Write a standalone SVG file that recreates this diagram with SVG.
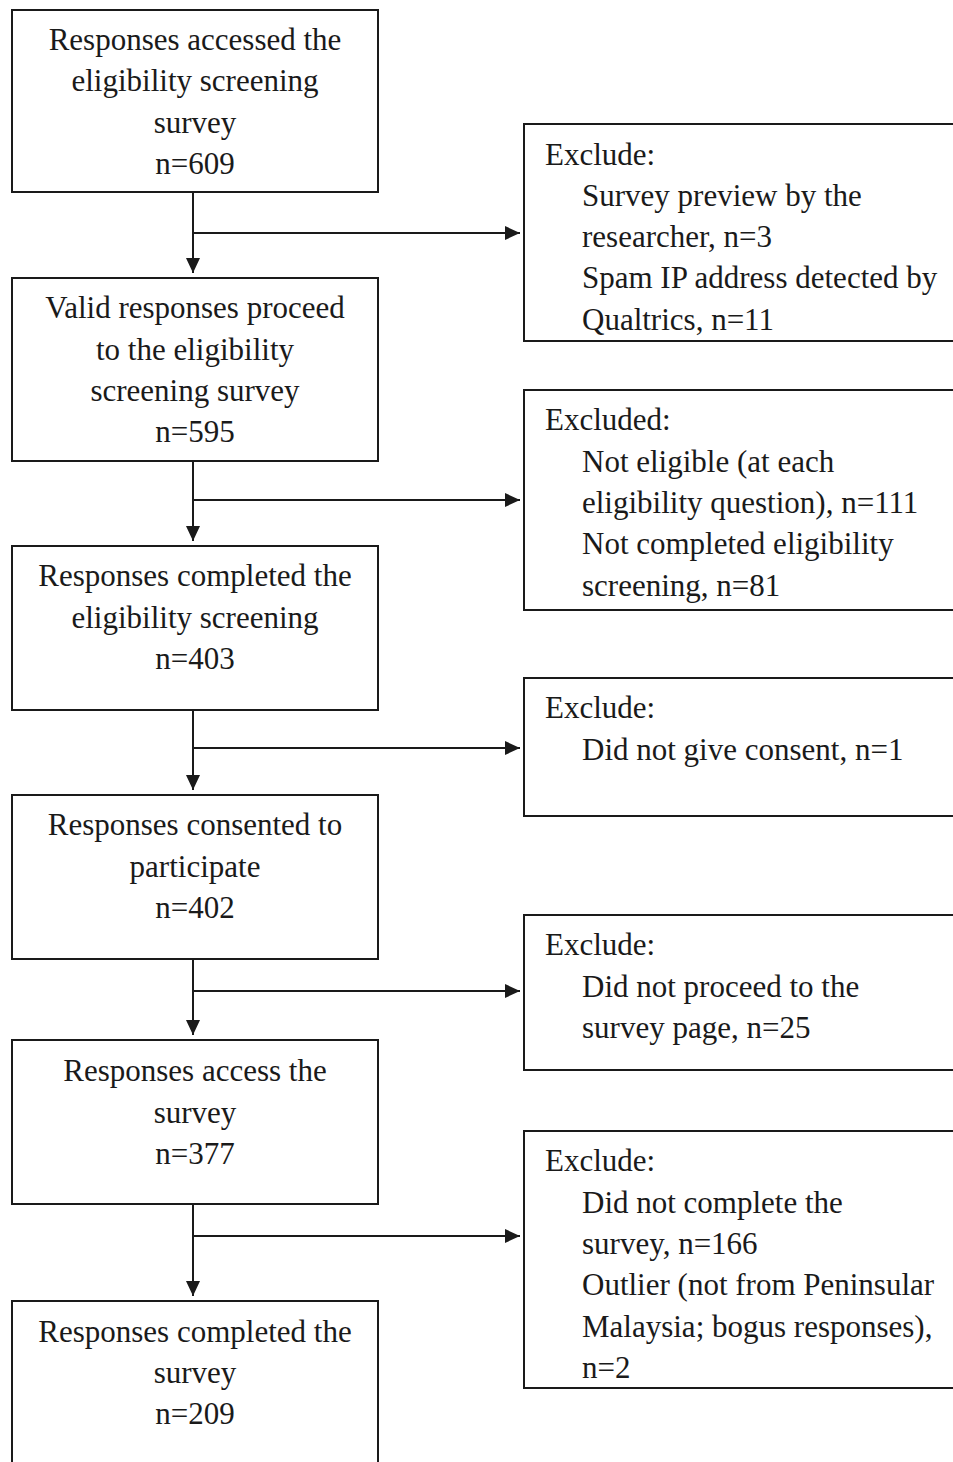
<svg xmlns="http://www.w3.org/2000/svg" width="953" height="1462" viewBox="0 0 953 1462">
<defs>
<marker id="ah" markerUnits="userSpaceOnUse" markerWidth="16" markerHeight="14" refX="15" refY="7" orient="auto">
<path d="M0,0 L15,7 L0,14 Z" fill="#1a1a1a"/>
</marker>
<style>
.box{fill:#fff;stroke:#1a1a1a;stroke-width:2}
.t{font-family:"Liberation Serif","Times New Roman",serif;font-size:31px;fill:#1a1a1a}
.c{text-anchor:middle}
.ln{stroke:#1a1a1a;stroke-width:2;fill:none}
</style>
</defs>
<rect width="953" height="1462" fill="#fff"/>
<g id="connectors">
<path class="ln" d="M193,192 V273" marker-end="url(#ah)"/>
<path class="ln" d="M193,233 H520" marker-end="url(#ah)"/>
<path class="ln" d="M193,461 V541" marker-end="url(#ah)"/>
<path class="ln" d="M193,500 H520" marker-end="url(#ah)"/>
<path class="ln" d="M193,710 V790" marker-end="url(#ah)"/>
<path class="ln" d="M193,748 H520" marker-end="url(#ah)"/>
<path class="ln" d="M193,959 V1035" marker-end="url(#ah)"/>
<path class="ln" d="M193,991 H520" marker-end="url(#ah)"/>
<path class="ln" d="M193,1204 V1296" marker-end="url(#ah)"/>
<path class="ln" d="M193,1236 H520" marker-end="url(#ah)"/>
</g>
<g id="n1">
<rect class="box" x="12" y="10" width="366" height="182"/>
<text class="t c" x="195" y="50">Responses accessed the</text>
<text class="t c" x="195" y="91">eligibility screening</text>
<text class="t c" x="195" y="133">survey</text>
<text class="t c" x="195" y="174">n=609</text>
</g>
<g id="n2">
<rect class="box" x="12" y="278" width="366" height="183"/>
<text class="t c" x="195" y="318">Valid responses proceed</text>
<text class="t c" x="195" y="360">to the eligibility</text>
<text class="t c" x="195" y="401">screening survey</text>
<text class="t c" x="195" y="442">n=595</text>
</g>
<g id="n3">
<rect class="box" x="12" y="546" width="366" height="164"/>
<text class="t c" x="195" y="586">Responses completed the</text>
<text class="t c" x="195" y="628">eligibility screening</text>
<text class="t c" x="195" y="669">n=403</text>
</g>
<g id="n4">
<rect class="box" x="12" y="795" width="366" height="164"/>
<text class="t c" x="195" y="835">Responses consented to</text>
<text class="t c" x="195" y="877">participate</text>
<text class="t c" x="195" y="918">n=402</text>
</g>
<g id="n5">
<rect class="box" x="12" y="1040" width="366" height="164"/>
<text class="t c" x="195" y="1081">Responses access the</text>
<text class="t c" x="195" y="1123">survey</text>
<text class="t c" x="195" y="1164">n=377</text>
</g>
<g id="n6">
<rect class="box" x="12" y="1301" width="366" height="200"/>
<text class="t c" x="195" y="1342">Responses completed the</text>
<text class="t c" x="195" y="1383">survey</text>
<text class="t c" x="195" y="1424">n=209</text>
</g>
<g id="e1">
<rect class="box" x="524" y="124" width="450" height="217"/>
<text class="t" x="545" y="165">Exclude:</text>
<text class="t" x="582" y="206">Survey preview by the</text>
<text class="t" x="582" y="247">researcher, n=3</text>
<text class="t" x="582" y="288">Spam IP address detected by</text>
<text class="t" x="582" y="330">Qualtrics, n=11</text>
</g>
<g id="e2">
<rect class="box" x="524" y="390" width="450" height="220"/>
<text class="t" x="545" y="430">Excluded:</text>
<text class="t" x="582" y="472">Not eligible (at each</text>
<text class="t" x="582" y="513">eligibility question), n=111</text>
<text class="t" x="582" y="554">Not completed eligibility</text>
<text class="t" x="582" y="596">screening, n=81</text>
</g>
<g id="e3">
<rect class="box" x="524" y="678" width="450" height="138"/>
<text class="t" x="545" y="718">Exclude:</text>
<text class="t" x="582" y="760">Did not give consent, n=1</text>
</g>
<g id="e4">
<rect class="box" x="524" y="915" width="450" height="155"/>
<text class="t" x="545" y="955">Exclude:</text>
<text class="t" x="582" y="997">Did not proceed to the</text>
<text class="t" x="582" y="1038">survey page, n=25</text>
</g>
<g id="e5">
<rect class="box" x="524" y="1131" width="450" height="257"/>
<text class="t" x="545" y="1171">Exclude:</text>
<text class="t" x="582" y="1213">Did not complete the</text>
<text class="t" x="582" y="1254">survey, n=166</text>
<text class="t" x="582" y="1295">Outlier (not from Peninsular</text>
<text class="t" x="582" y="1337">Malaysia; bogus responses),</text>
<text class="t" x="582" y="1378">n=2</text>
</g>
</svg>
